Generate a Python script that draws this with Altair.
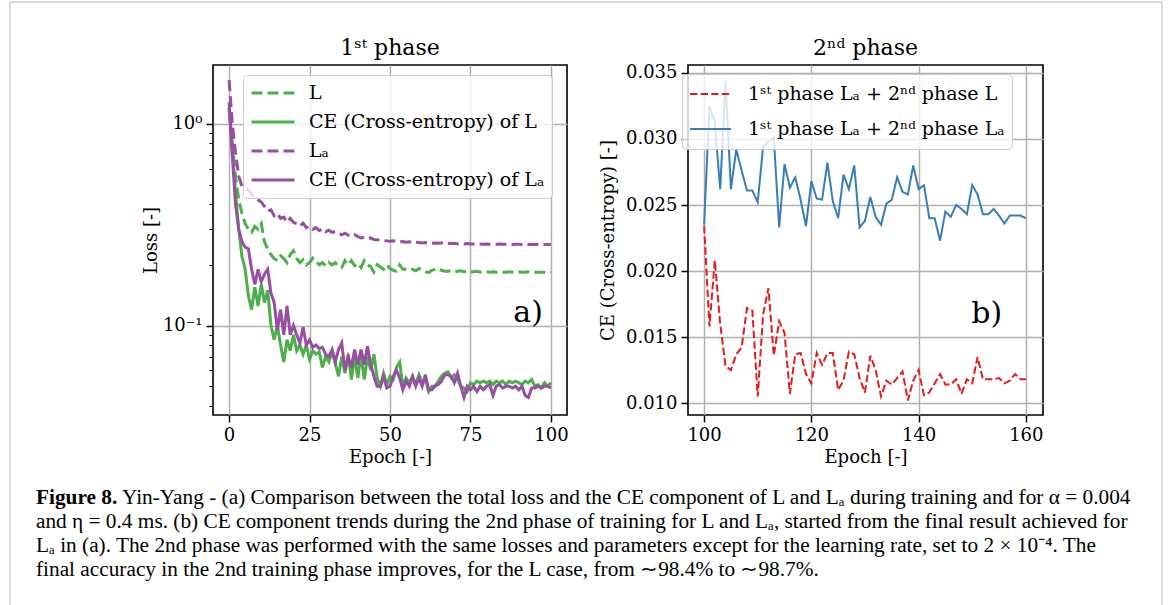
import altair as alt
import pandas as pd

# ---------------- data ----------------
epochs_a = list(range(0, 101))
loss_L = [1.20, 0.80, 0.55, 0.42, 0.36, 0.32, 0.30, 0.29, 0.31, 0.30,
          0.32, 0.26, 0.24, 0.225, 0.215, 0.21, 0.222, 0.215, 0.205, 0.225,
          0.235, 0.215, 0.205, 0.212, 0.20, 0.205, 0.216, 0.208, 0.20, 0.205,
          0.198, 0.206, 0.20, 0.205, 0.196, 0.194, 0.21, 0.20, 0.21, 0.198,
          0.204, 0.194, 0.21, 0.20, 0.196, 0.184, 0.20, 0.195, 0.19, 0.20,
          0.192, 0.188, 0.186, 0.20, 0.19, 0.19, 0.188, 0.19, 0.187, 0.192,
          0.188, 0.185, 0.183, 0.188, 0.19, 0.192, 0.188, 0.186, 0.186, 0.187,
          0.185, 0.186, 0.187, 0.185, 0.186, 0.184, 0.185, 0.186, 0.184, 0.185,
          0.185, 0.184, 0.185, 0.184, 0.185, 0.184, 0.184, 0.185, 0.184, 0.184,
          0.185, 0.184, 0.184, 0.185, 0.184, 0.184, 0.184, 0.184, 0.184, 0.184,
          0.184]
ce_L = [1.20, 0.75, 0.45, 0.30, 0.22,
        0.19, 0.14, 0.12, 0.155, 0.125, 0.16, 0.13, 0.15, 0.10, 0.085,
        0.10, 0.08, 0.066, 0.085, 0.075, 0.09, 0.075, 0.08, 0.072, 0.08,
        0.068, 0.075, 0.072, 0.074, 0.062, 0.07, 0.066, 0.074, 0.065, 0.056,
        0.07, 0.058, 0.072, 0.054, 0.07, 0.055, 0.072, 0.054, 0.07, 0.06,
        0.072, 0.055, 0.05, 0.058, 0.051, 0.056, 0.054, 0.062, 0.066, 0.05,
        0.055, 0.052, 0.056, 0.051, 0.057, 0.052, 0.055, 0.047, 0.05, 0.05,
        0.053, 0.056, 0.058, 0.059, 0.055, 0.057, 0.054, 0.05, 0.049, 0.047,
        0.052, 0.051, 0.053, 0.052, 0.053, 0.052, 0.053, 0.051, 0.053, 0.052,
        0.053, 0.051, 0.053, 0.052, 0.053, 0.052, 0.051, 0.053, 0.052, 0.054,
        0.05, 0.051, 0.049, 0.052, 0.05, 0.052]
loss_LA = [1.65, 1.00, 0.72, 0.55, 0.49, 0.48, 0.47, 0.45, 0.43, 0.42,
           0.41, 0.39, 0.37, 0.375, 0.35, 0.36, 0.34, 0.345, 0.325, 0.34,
           0.325, 0.32, 0.312, 0.322, 0.306, 0.31, 0.30, 0.306, 0.296, 0.302,
           0.292, 0.297, 0.29, 0.292, 0.286, 0.282, 0.287, 0.281, 0.277, 0.282,
           0.276, 0.272, 0.274, 0.27, 0.272, 0.267, 0.266, 0.265, 0.264, 0.263,
           0.262, 0.263, 0.261, 0.26, 0.261, 0.259, 0.26, 0.258, 0.259, 0.258,
           0.257, 0.258, 0.257, 0.256, 0.257, 0.256, 0.257, 0.255, 0.256, 0.255,
           0.256, 0.254, 0.255, 0.254, 0.255, 0.254, 0.254, 0.253, 0.254, 0.253,
           0.254, 0.253, 0.253, 0.253, 0.254, 0.253, 0.253, 0.253, 0.252, 0.253,
           0.253, 0.252, 0.253, 0.252, 0.252, 0.253, 0.252, 0.252, 0.252, 0.252,
           0.252]
ce_LA = [1.28, 0.70, 0.40, 0.30, 0.26,
         0.245, 0.24, 0.19, 0.16, 0.19, 0.165, 0.18, 0.19, 0.145, 0.13,
         0.095, 0.12, 0.09, 0.125, 0.09, 0.10, 0.09, 0.082, 0.098, 0.08,
         0.085, 0.078, 0.08, 0.077, 0.078, 0.072, 0.07, 0.076, 0.066, 0.076,
         0.082, 0.06, 0.07, 0.062, 0.076, 0.064, 0.076, 0.064, 0.079, 0.064,
         0.056, 0.05, 0.05, 0.056, 0.049, 0.05, 0.056, 0.06, 0.055, 0.048,
         0.053, 0.05, 0.056, 0.05, 0.055, 0.05, 0.057, 0.048, 0.048, 0.05,
         0.051, 0.053, 0.057, 0.057, 0.056, 0.052, 0.058, 0.05, 0.044, 0.05,
         0.048, 0.05, 0.047, 0.05, 0.048, 0.05, 0.051, 0.045, 0.05, 0.051,
         0.049, 0.05, 0.05, 0.049, 0.05, 0.048, 0.05, 0.045, 0.044, 0.049,
         0.049, 0.05, 0.049, 0.05, 0.05, 0.049]

epochs_b = list(range(100, 161))
ce_b_L = [0.0234, 0.0158, 0.0208, 0.0160, 0.0128, 0.0125, 0.0137, 0.0142, 0.0172, 0.0170,
          0.0105, 0.0167, 0.0187, 0.0136, 0.0162, 0.0153, 0.0107, 0.0137, 0.0138, 0.0122,
          0.0115, 0.0138, 0.0129, 0.0138, 0.0138, 0.0110, 0.0117, 0.0139, 0.0137, 0.0119,
          0.0108, 0.0136, 0.0125, 0.0105, 0.0117, 0.0114, 0.0119, 0.0124, 0.0102, 0.0117,
          0.0125, 0.0106, 0.0108, 0.0115, 0.0122, 0.0114, 0.0114, 0.0118, 0.0107, 0.0118,
          0.0115, 0.0135, 0.0118, 0.0118, 0.0118, 0.0119, 0.0115, 0.0117, 0.0122, 0.0118,
          0.0118]
ce_b_LA = [0.0235, 0.0325, 0.0312, 0.0262, 0.0344, 0.0262, 0.0292, 0.0276, 0.0261, 0.0261,
           0.0252, 0.0294, 0.0298, 0.0301, 0.0233, 0.0281, 0.0263, 0.0271, 0.0254, 0.0234,
           0.0268, 0.0255, 0.0254, 0.0282, 0.0253, 0.0240, 0.0273, 0.0262, 0.0280, 0.0233,
           0.0238, 0.0256, 0.0241, 0.0235, 0.0251, 0.0254, 0.0271, 0.0260, 0.0258, 0.0280,
           0.0262, 0.0265, 0.0240, 0.0240, 0.0223, 0.0245, 0.0241, 0.0250, 0.0247, 0.0243,
           0.0265, 0.0258, 0.0243, 0.0243, 0.0247, 0.0242, 0.0236, 0.0242, 0.0242, 0.0242,
           0.0240]

names_a = ["L", "CE (Cross-entropy) of L", "Lₐ", "CE (Cross-entropy) of Lₐ"]
names_b = ["1ˢᵗ phase Lₐ + 2ⁿᵈ phase L", "1ˢᵗ phase Lₐ + 2ⁿᵈ phase Lₐ"]
xticks_a = [0, 25, 50, 75, 100]
yticks_a = [0.04, 0.05, 0.06, 0.07, 0.08, 0.09, 0.1, 0.2, 0.3, 0.4, 0.5,
            0.6, 0.7, 0.8, 0.9, 1.0]
xticks_b = [100, 120, 140, 160]
yticks_b = [0.010, 0.015, 0.020, 0.025, 0.030, 0.035]
panel_titles = ["1ˢᵗ phase", "2ⁿᵈ phase"]
panel_tags = ["a)", "b)"]
caption_bold = "Figure 8."
caption_lines = [
    "Yin-Yang - (a) Comparison between the total loss and the CE component of L and Lₐ during training and for α = 0.004",
    "and η = 0.4 ms. (b) CE component trends during the 2nd phase of training for L and Lₐ, started from the final result achieved for",
    "Lₐ in (a). The 2nd phase was performed with the same losses and parameters except for the learning rate, set to 2 × 10⁻⁴. The",
    "final accuracy in the 2nd training phase improves, for the L case, from ∼98.4% to ∼98.7%.",
]

# ---------------- styles ----------------
SERIF = "DejaVu Serif"
CAP_FONT = "Liberation Serif"
CAP_SIZE = 21.3
GREEN, PURPLE, RED, BLUE = "#4daf4a", "#984ea3", "#e41a1c", "#377eb8"
W, H = 354, 350

dfa = pd.DataFrame([
    {"epoch": e, "value": v, "series": n}
    for n, arr in zip(names_a, [loss_L, ce_L, loss_LA, ce_LA])
    for e, v in zip(epochs_a, arr)
])
dfb = pd.DataFrame([
    {"epoch": e, "value": v, "series": n}
    for n, arr in zip(names_b, [ce_b_L, ce_b_LA])
    for e, v in zip(epochs_b, arr)
])

legend_common = dict(title=None, orient="none", symbolType="stroke",
                     fillColor="rgba(255,255,255,0.8)", strokeColor="#cccccc",
                     cornerRadius=4, labelFont=SERIF, labelFontSize=19,
                     labelColor="black", labelLimit=500)


def title_mark(t, width):
    return alt.Chart(pd.DataFrame({"t": [t]})).mark_text(
        font=SERIF, fontSize=22, align="center", baseline="middle", color="black"
    ).encode(x=alt.value(width / 2), y=alt.value(-17), text="t:N")


# ---------------- panel a ----------------
major = "datum.value == 1 || datum.value == 0.1"
xa = alt.X("epoch:Q", scale=alt.Scale(domain=[-5, 105], nice=False, zero=False),
           axis=alt.Axis(values=xticks_a, title="Epoch [-]", format="d"))
ya = alt.Y("value:Q", scale=alt.Scale(type="log", domain=[0.036, 1.96], nice=False),
           axis=alt.Axis(values=yticks_a, title="Loss [-]", labelOverlap=False,
                         labelExpr="datum.value == 1 ? '10⁰' : (datum.value == 0.1 ? '10⁻¹' : '')",
                         tickSize={"condition": {"test": major, "value": 7}, "value": 4},
                         tickWidth={"condition": {"test": major, "value": 1.5}, "value": 1},
                         gridOpacity={"condition": {"test": major, "value": 1}, "value": 0},
                         titlePadding=2))
legend_a = alt.Legend(legendX=30, legendY=10, symbolSize=43 * 43, symbolStrokeWidth=3,
                      labelOffset=13, clipHeight=22, rowPadding=7, padding=7,
                      **legend_common)
base_a = alt.Chart(dfa).mark_line(strokeWidth=3).encode(
    x=xa, y=ya,
    color=alt.Color("series:N", scale=alt.Scale(domain=names_a, range=[GREEN, GREEN, PURPLE, PURPLE]),
                    legend=legend_a),
    strokeDash=alt.StrokeDash("series:N", scale=alt.Scale(domain=names_a,
                              range=[[11, 5], [1, 0], [11, 5], [1, 0]]), legend=legend_a),
)
lines_a = [base_a.transform_filter(alt.datum.series == n) for n in names_a]
tag_a = alt.Chart(pd.DataFrame({"epoch": [92.9], "value": [0.115], "t": [panel_tags[0]]})).mark_text(
    font=SERIF, fontSize=30, align="center", baseline="middle", color="black"
).encode(x="epoch:Q", y="value:Q", text="t:N")

# caption and figure frame (drawn relative to panel a's plot area)
cap_bold = alt.Chart(pd.DataFrame({"t": [caption_bold]})).mark_text(
    align="left", baseline="alphabetic", font=CAP_FONT, fontSize=CAP_SIZE, fontWeight="bold", color="black"
).encode(x=alt.value(-177), y=alt.value(439), text="t:N")
cap_first = alt.Chart(pd.DataFrame({"t": [caption_lines[0]]})).mark_text(
    align="left", baseline="alphabetic", font=CAP_FONT, fontSize=CAP_SIZE, color="black"
).encode(x=alt.value(-91), y=alt.value(439), text="t:N")
cap_rest = alt.Chart(pd.DataFrame({"t": ["\n".join(caption_lines[1:])]})).mark_text(
    align="left", baseline="alphabetic", font=CAP_FONT, fontSize=CAP_SIZE, color="black",
    lineBreak="\n", lineHeight=24
).encode(x=alt.value(-177), y=alt.value(463), text="t:N")
frame_l = alt.Chart(pd.DataFrame({"k": [0]})).mark_rule(color="#b8b8b8", strokeWidth=1).encode(
    x=alt.value(-203), y=alt.value(-63), y2=alt.value(541))
frame_r = alt.Chart(pd.DataFrame({"k": [0]})).mark_rule(color="#b8b8b8", strokeWidth=1).encode(
    x=alt.value(949), y=alt.value(-63), y2=alt.value(541))
frame_t = alt.Chart(pd.DataFrame({"k": [0]})).mark_rule(color="#b8b8b8", strokeWidth=1).encode(
    x=alt.value(-203), x2=alt.value(949), y=alt.value(-63))

left = alt.layer(*lines_a, tag_a, title_mark(panel_titles[0], W), cap_bold, cap_first, cap_rest,
                 frame_l, frame_r, frame_t).properties(width=W, height=H)

# ---------------- panel b ----------------
xb = alt.X("epoch:Q", scale=alt.Scale(domain=[97, 163.2], nice=False, zero=False),
           axis=alt.Axis(values=xticks_b, title="Epoch [-]", format="d"))
yb = alt.Y("value:Q", scale=alt.Scale(domain=[0.0091, 0.0356], nice=False, zero=False),
           axis=alt.Axis(values=yticks_b, format=".3f", title="CE (Cross-entropy) [-]",
                         titlePadding=8))
legend_b = alt.Legend(legendX=-6, legendY=9, symbolSize=41 * 41, symbolStrokeWidth=2,
                      labelOffset=16, clipHeight=26, rowPadding=9, padding=7,
                      **legend_common)
base_b = alt.Chart(dfb).mark_line(strokeWidth=2).encode(
    x=xb, y=yb,
    color=alt.Color("series:N", scale=alt.Scale(domain=names_b, range=[RED, BLUE]), legend=legend_b),
    strokeDash=alt.StrokeDash("series:N", scale=alt.Scale(domain=names_b, range=[[7.4, 3.2], [1, 0]]),
                              legend=legend_b),
)
lines_b = [base_b.transform_filter(alt.datum.series == n) for n in names_b]
tag_b = alt.Chart(pd.DataFrame({"epoch": [152.7], "value": [0.01674], "t": [panel_tags[1]]})).mark_text(
    font=SERIF, fontSize=30, align="center", baseline="middle", color="black"
).encode(x="epoch:Q", y="value:Q", text="t:N")
right = alt.layer(*lines_b, tag_b, title_mark(panel_titles[1], 355)).properties(width=355, height=H)

chart = alt.hconcat(left, right, spacing=121, bounds="flush").resolve_scale(
    color="independent", strokeDash="independent", x="independent", y="independent"
).resolve_legend(
    color="independent", strokeDash="independent"
).properties(
    padding={"left": 8, "top": 0, "right": 0, "bottom": 0},
    autosize=alt.AutoSizeParams(type="pad"),
).configure_view(
    stroke="black", strokeWidth=1.6
).configure_axis(
    labelFont=SERIF, labelFontSize=18, labelColor="black", labelPadding=4,
    titleFont=SERIF, titleFontSize=18, titleFontWeight="normal", titleColor="black",
    tickColor="black", tickSize=7, tickWidth=1.5, domain=False,
    gridColor="#b0b0b0", gridWidth=1.5,
)

chart.save("out.html", embed_options={"renderer": "svg", "actions": False})
